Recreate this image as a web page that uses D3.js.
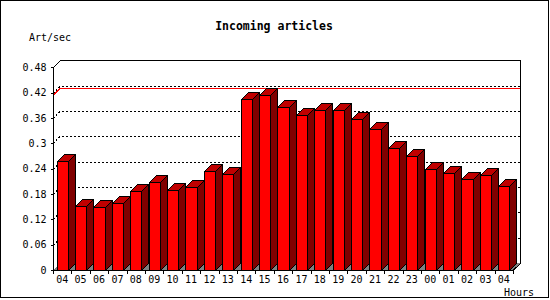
<!DOCTYPE html>
<html>
<head>
<meta charset="utf-8">
<script src="https://cdn.jsdelivr.net/npm/d3@7/dist/d3.min.js"></script>
<style>
  body { margin: 0; background: #fff; }
  svg text { font-family: "DejaVu Sans Mono", monospace; fill: #000; }
  svg polygon, svg path, svg rect, svg line { shape-rendering: crispEdges; }
</style>
</head>
<body>
<div id="chart"></div>
<script>
// hours on the x axis (day wraps, so 04 appears twice)
var hours = ["04","05","06","07","08","09","10","11","12","13","14","15","16",
             "17","18","19","20","21","22","23","00","01","02","03","04"];
// incoming articles per second
var rates = [0.258, 0.151, 0.149, 0.159, 0.186, 0.208, 0.189, 0.196, 0.234, 0.227,
             0.405, 0.414, 0.385, 0.366, 0.378, 0.378, 0.357, 0.333, 0.290, 0.270,
             0.239, 0.229, 0.215, 0.224, 0.198];
var yTicks = [0, 0.06, 0.12, 0.18, 0.24, 0.3, 0.36, 0.42, 0.48];
var yTickLabels = ["0","0.06","0.12","0.18","0.24","0.3","0.36","0.42","0.48"];

(function () {
  var width = 550, height = 300;
  var pLeft = 53, pRight = 513, pBottom = 270, pTop = 67.3;
  var dx = 7, dy = 7;   // 3d depth offset

  var svg = d3.select("#chart").append("svg")
      .attr("width", width).attr("height", height);

  var x = d3.scaleBand().domain(d3.range(hours.length)).range([pLeft, pRight]).padding(0);
  var y = d3.scaleLinear().domain([0, 0.48]).range([pBottom, pTop]);

  var faceOff = x.bandwidth() * 0.2;
  var faceW = x.bandwidth() * 0.6;

  // outer border
  svg.append("rect").attr("x", 0.5).attr("y", 0.5).attr("width", 548).attr("height", 297)
      .attr("fill", "#fff").attr("stroke", "#000");

  // title + axis names
  svg.append("text").attr("x", 274).attr("y", 30).attr("text-anchor", "middle")
      .attr("font-size", "11.5px").attr("font-weight", "bold").text("Incoming articles");
  svg.append("text").attr("x", 29).attr("y", 41).attr("font-size", "10px").text("Art/sec");
  svg.append("text").attr("x", 504).attr("y", 296).attr("font-size", "10px").text("Hours");

  // floor
  svg.append("polygon")
      .attr("points", [[pLeft, pBottom], [pRight, pBottom], [pRight + dx, pBottom - dy], [pLeft + dx, pBottom - dy]].join(" "))
      .attr("fill", "#808080");

  // gridlines (dotted, with diagonal on the side wall)
  svg.selectAll("path.grid").data(yTicks.filter(function (d) { return d > 0 && d < 0.48; }))
    .enter().append("path")
      .attr("class", "grid")
      .attr("d", function (d) {
        var yy = Math.round(y(d)) + 0.5;
        return "M" + pLeft + "," + yy + "L" + (pLeft + dx) + "," + (yy - dy) + "L" + (pRight + dx) + "," + (yy - dy);
      })
      .attr("fill", "none").attr("stroke", "#000").attr("stroke-dasharray", "2,2");

  // max line
  var maxV = d3.max(rates);
  var my = Math.round(y(maxV)) + 0.5;
  svg.append("path")
      .attr("d", "M" + pLeft + "," + my + "L" + (pLeft + dx) + "," + (my - dy) + "L" + (pRight + dx) + "," + (my - dy))
      .attr("fill", "none").attr("stroke", "#ff0000");

  // bars
  var bars = svg.selectAll("g.bar").data(rates).enter().append("g").attr("class", "bar");
  bars.each(function (d, i) {
    var g = d3.select(this);
    var x1 = Math.round(x(i) + faceOff) + 0.5, x2 = Math.round(x(i) + faceOff + faceW) + 0.5;
    var yt = Math.round(y(d)) + 0.5, yb = pBottom + 0.5;
    g.append("polygon")
      .attr("points", [[x2, yt], [x2 + dx, yt - dy], [x2 + dx, yb - dy], [x2, yb]].join(" "))
      .attr("fill", "#800000").attr("stroke", "#000");
    g.append("polygon")
      .attr("points", [[x1, yt], [x1 + dx, yt - dy], [x2 + dx, yt - dy], [x2, yt]].join(" "))
      .attr("fill", "#c00000").attr("stroke", "#000");
    g.append("rect").attr("x", x1).attr("y", yt).attr("width", x2 - x1).attr("height", yb - yt)
      .attr("fill", "#ff0000").attr("stroke", "#000");
  });

  // frame
  var frame = svg.append("g").attr("fill", "none").attr("stroke", "#000");
  var ty = Math.round(y(0.48)) + 0.5;
  frame.append("path")
      .attr("d", "M" + (pLeft + 0.5) + "," + (pBottom + 0.5) + "V" + ty);
  frame.append("path")
      .attr("d", "M" + (pLeft + dx + 0.5) + "," + (ty - dy) + "H" + (pRight + dx + 0.5) + "V" + (pBottom - dy + 0.5));
  frame.append("path")
      .attr("d", "M" + pLeft + "," + (pBottom + 0.5) + "H" + pRight);
  frame.append("path")
      .attr("d", "M" + (pLeft + 0.5) + "," + ty + "L" + (pLeft + dx + 0.5) + "," + (ty - dy) +
                 "M" + pRight + "," + (pBottom + 0.5) + "L" + (pRight + dx + 0.5) + "," + (pBottom - dy + 0.5));

  // y axis
  var yAxis = d3.axisLeft(y).tickValues(yTicks).tickSize(3).tickPadding(4)
      .tickFormat(function (d, i) { return yTickLabels[i]; });
  var ya = svg.append("g").attr("transform", "translate(" + (pLeft + 0.5) + ",0)").call(yAxis);
  ya.select(".domain").remove();
  ya.selectAll("text").attr("font-family", "DejaVu Sans Mono").attr("font-size", "10px").attr("fill", "#000");

  // x axis: ticks at slot boundaries, labels centered
  var bounds = d3.range(hours.length).map(function (i) { return x(i); }).concat([pRight]);
  svg.selectAll("line.xt").data(bounds).enter().append("line")
      .attr("class", "xt")
      .attr("x1", function (d) { return Math.round(d) + 0.5; })
      .attr("x2", function (d) { return Math.round(d) + 0.5; })
      .attr("y1", pBottom).attr("y2", pBottom + 4)
      .attr("stroke", "#000");
  svg.selectAll("text.xl").data(hours).enter().append("text")
      .attr("class", "xl")
      .attr("x", function (d, i) { return x(i) + x.bandwidth() / 2; })
      .attr("y", 283).attr("text-anchor", "middle").attr("font-size", "10px")
      .text(function (d) { return d; });
})();
</script>
</body>
</html>
